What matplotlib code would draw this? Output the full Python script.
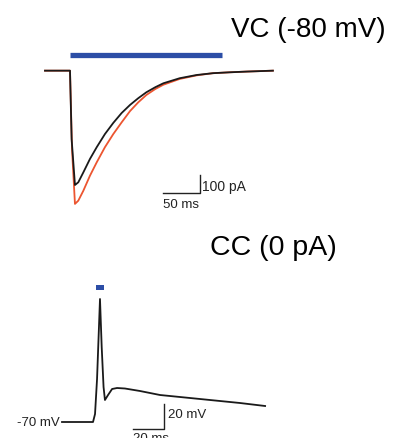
import matplotlib.pyplot as plt
import matplotlib.patches as patches

plt.rcParams['font.family'] = ['Liberation Sans', 'DejaVu Sans']

# VC (-80 mV): time (ms) / current (pA)
vc_t_black = [0, 33.8, 36, 40.5, 45, 51.8, 60.8, 69.9, 81, 92.3, 103.6, 115, 126, 137,
              149, 160, 182, 205, 227, 250, 273, 308]
vc_i_black = [0, 0, -380, -635, -620, -565, -490, -425, -352, -290, -235, -190, -153, -120,
              -92, -70, -42, -24, -14, -9, -5, 0]
vc_t_red = [0, 33.8, 36.5, 40.5, 45, 51.8, 60.8, 69.9, 81, 92.3, 103.6, 115, 126, 137,
            149, 160, 182, 205, 227, 250, 273, 308]
vc_i_red = [0, 0, -435, -740, -722, -667, -583, -509, -425, -352, -287, -224, -176, -135,
            -102, -78, -46, -26, -14, -9, -5, 0]
vc_light = [33.8, 239]  # light on/off (ms)

# CC (0 pA): time (ms) / voltage (mV)
cc_t = [0, 20, 21.3, 22.6, 24.5, 25.6, 26.8, 27.7, 29.7, 32.3, 35.5, 40.6, 50.3, 63.2,
        76.1, 89, 101.9, 114.8, 131]
cc_v = [-70, -70, -63.6, -35.6, 28.4, -10, -42, -52.4, -48.4, -43.6, -42.8, -43.2, -45.2,
        -48.4, -50, -51.6, -53.2, -54.8, -57.2]
cc_light = [21.7, 27.3]

blue = '#2c4ea6'
red = '#ec5530'

fig = plt.figure(figsize=(3.95, 4.39), dpi=100)

# top panel
ax1 = fig.add_axes([0, 0.5, 1, 0.5])
ax1.plot(vc_t_red, vc_i_red, color=red, lw=1.3)
ax1.plot(vc_t_black, vc_i_black, color='#1a1a1a', lw=1.3)
ax1.plot(vc_light, [87, 87], color=blue, lw=3.8, solid_capstyle='butt')
# scale bar 50 ms / 100 pA
ax1.plot([159, 209, 209], [-678, -678, -578], color='#222222', lw=1.0)
ax1.text(212, -640, '100 pA', fontsize=10, va='center', ha='left', color='#222222')
ax1.text(159, -740, '50 ms', fontsize=9.5, va='center', ha='left', color='#222222')
ax1.set_xlim(-60.8, 473)
ax1.set_ylim(-821, 398)
ax1.axis('off')

# bottom panel
ax2 = fig.add_axes([0, 0, 1, 0.5])
ax2.plot(cc_t, cc_v, color='#1a1a1a', lw=1.3)
ax2.add_patch(patches.Rectangle((cc_light[0], 35.7), cc_light[1] - cc_light[0], 4.2,
                                color=blue, lw=0))
# scale bar 20 ms / 20 mV
ax2.plot([46, 66, 66], [-75.6, -75.6, -55.6], color='#222222', lw=1.0)
ax2.text(68.5, -63.6, '20 mV', fontsize=9.5, va='center', ha='left', color='#222222')
ax2.text(46, -77.8, '20 ms', fontsize=9.5, va='top', ha='left', color='#222222')
ax2.text(-1.5, -70, '-70 mV', fontsize=9.5, va='center', ha='right', color='#222222')
ax2.set_xlim(-40, 214.8)
ax2.set_ylim(-82.8, 92.8)
ax2.axis('off')

fig.text(0.585, 0.915, 'VC (-80 mV)', fontsize=20, ha='left', va='baseline')
fig.text(0.532, 0.42, 'CC (0 pA)', fontsize=20.5, ha='left', va='baseline')

fig.savefig('out.png', dpi=100)
